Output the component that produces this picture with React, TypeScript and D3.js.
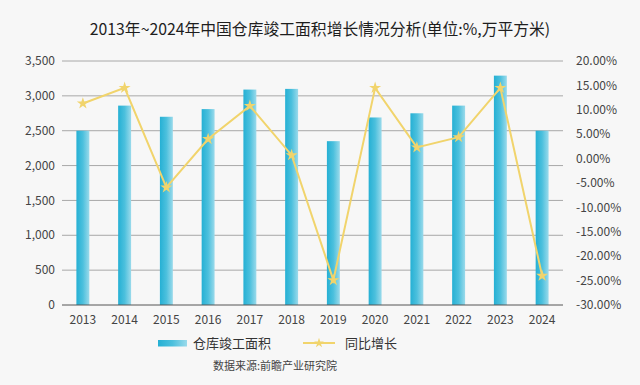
import React from "react";
import * as d3 from "d3";

const years = ["2013","2014","2015","2016","2017","2018","2019","2020","2021","2022","2023","2024"];
const area = [2500, 2860, 2700, 2810, 3090, 3100, 2350, 2690, 2750, 2860, 3290, 2500];
const growth = [11.3, 14.5, -5.9, 4.0, 10.8, 0.7, -24.9, 14.5, 2.3, 4.4, 14.5, -24.0];
const leftTicks = [0, 500, 1000, 1500, 2000, 2500, 3000, 3500];
const rightTicks = [-30, -25, -20, -15, -10, -5, 0, 5, 10, 15, 20];
const title = "2013年~2024年中国仓库竣工面积增长情况分析(单位:%,万平方米)";
const barName = "仓库竣工面积";
const lineName = "同比增长";
const source = "数据来源:前瞻产业研究院";

const W = 640, H = 385;
const left = 62, right = 563, top = 61, bottom = 305;
const font = "'Noto Sans CJK SC', 'Noto Sans', sans-serif";
const lineColor = "#f1d46c";

export default function App() {
  const x = d3.scaleBand<string>().domain(years).range([left, right]).paddingInner(0.69).paddingOuter(0.345);
  const yL = d3.scaleLinear().domain([0, 3500]).range([bottom, top]);
  const yR = d3.scaleLinear().domain([-30, 20]).range([bottom, top]);
  const cx = (y: string) => (x(y) as number) + x.bandwidth() / 2;
  const line = d3.line<number>().x((_, i) => cx(years[i])).y((d) => yR(d));
  const star = d3.symbol().type(d3.symbolStar).size(45)() as string;
  const legStar = d3.symbol().type(d3.symbolStar).size(30)() as string;
  const fmt = d3.format(",");
  return (
    <div style={{ position: "absolute", left: 0, top: 0 }}>
      <svg width={W} height={H} style={{ display: "block", fontFamily: font }}>
        <defs>
          <linearGradient id="barG" x1="0" x2="1" y1="0" y2="0">
            <stop offset="0" stopColor="#25b0d4" />
            <stop offset="0.5" stopColor="#4cc0dd" />
            <stop offset="1" stopColor="#9adaeb" />
          </linearGradient>
        </defs>
        <rect width={W} height={H} fill="#f7f7f7" />
        <text x={320} y={35} textAnchor="middle" fontSize={15.8} fill="#1e1e1e" fontWeight={400}>{title}</text>
        {leftTicks.map((t) => (
          <g key={t}>
            {t !== 0 && <line x1={left} x2={right} y1={yL(t)} y2={yL(t)} stroke="#a8a8a8" strokeWidth={1} />}
            <text x={55} y={yL(t)} dy="0.35em" textAnchor="end" fontSize={12} fill="#444">{fmt(t)}</text>
          </g>
        ))}
        {rightTicks.map((t) => (
          <text key={t} x={576} y={yR(t)} dy="0.35em" textAnchor="start" fontSize={12} fill="#444">{t.toFixed(2) + "%"}</text>
        ))}
        {area.map((v, i) => (
          <rect key={years[i]} x={x(years[i])} y={yL(v)} width={x.bandwidth()} height={yL(0) - yL(v)} fill="url(#barG)" />
        ))}
        <line x1={left} x2={right} y1={bottom} y2={bottom} stroke="#555" strokeWidth={1} />
        {years.map((y) => (
          <text key={y} x={cx(y)} y={320} dy="0.35em" textAnchor="middle" fontSize={12} fill="#444">{y}</text>
        ))}
        <path d={line(growth) as string} fill="none" stroke={lineColor} strokeWidth={2} />
        {growth.map((g, i) => (
          <path key={years[i]} d={star} transform={`translate(${cx(years[i])},${yR(g)})`} fill={lineColor} />
        ))}
        <rect x={158} y={340} width={29} height={6.5} fill="url(#barG)" />
        <text x={193} y={343} dy="0.35em" fontSize={13} fill="#333">{barName}</text>
        <line x1={303} x2={335} y1={343} y2={343} stroke={lineColor} strokeWidth={2} />
        <path d={legStar} transform="translate(319,343)" fill={lineColor} />
        <text x={345} y={343} dy="0.35em" fontSize={13} fill="#333">{lineName}</text>
        <text x={275} y={366} dy="0.35em" textAnchor="middle" fontSize={11} fill="#444">{source}</text>
      </svg>
    </div>
  );
}
